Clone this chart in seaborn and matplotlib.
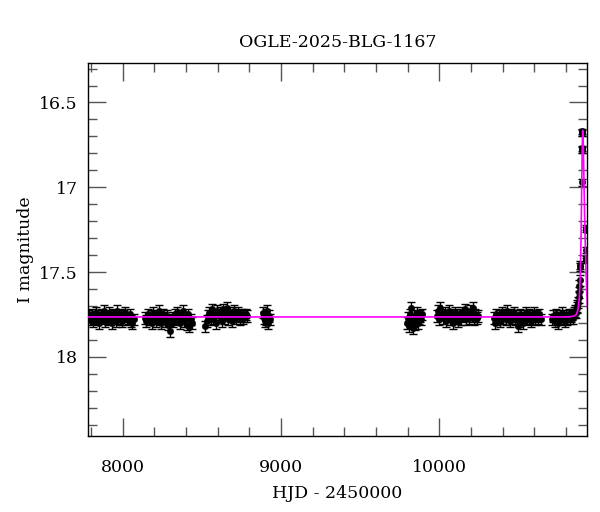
import matplotlib
matplotlib.use("Agg")
import matplotlib.pyplot as plt
import numpy as np
import pandas as pd
import seaborn as sns
from matplotlib.ticker import MultipleLocator

# OGLE photometry (HJD - 2450000, I mag, error)
hjd = [
    # 2017
    7786, 7795, 7803, 7811, 7820, 7828, 7837, 7845, 7853, 7862, 7870, 7879,
    7888, 7896, 7905, 7913, 7922, 7930, 7939, 7947, 7956, 7964, 7973, 7981,
    7990, 7998, 8007, 8016, 8025, 8034, 8043, 8052, 8061, 8068,
    # 2018
    8142, 8150, 8159, 8167, 8176, 8184, 8193, 8201, 8210, 8218, 8227, 8235,
    8244, 8252, 8261, 8269, 8278, 8286, 8295, 8301, 8310, 8318, 8327, 8335,
    8344, 8352, 8361, 8369, 8378, 8386, 8395, 8403, 8412, 8420, 8429, 8437,
    # 2019
    8522, 8530, 8539, 8547, 8556, 8564, 8573, 8581, 8590, 8598, 8607, 8615,
    8624, 8632, 8641, 8649, 8658, 8666, 8675, 8683, 8692, 8700, 8709, 8717,
    8726, 8734, 8743, 8751, 8760, 8768, 8777, 8786,
    # 2020
    8884, 8890, 8896, 8902, 8908, 8914, 8920, 8926, 8932,
    # 2022
    9797, 9803, 9809, 9815, 9821, 9827, 9833, 9839, 9845, 9851, 9857, 9863,
    9870, 9877, 9884, 9891,
    # 2023
    9982, 9990, 9999, 10007, 10016, 10024, 10033, 10041, 10050, 10058, 10067,
    10075, 10084, 10092, 10101, 10109, 10118, 10126, 10135, 10143, 10152,
    10160, 10169, 10177, 10186, 10194, 10203, 10211, 10220, 10228, 10237, 10245,
    # 2024
    10342, 10350, 10359, 10367, 10376, 10384, 10393, 10401, 10410, 10418,
    10427, 10435, 10444, 10452, 10461, 10469, 10478, 10486, 10495, 10503,
    10512, 10520, 10529, 10537, 10546, 10554, 10563, 10571, 10580, 10588,
    10597, 10605, 10614, 10622, 10631, 10639,
    # 2025 (event)
    10712, 10720, 10728, 10736, 10744, 10752, 10760, 10768, 10776, 10784,
    10792, 10800, 10808, 10816, 10824, 10832, 10840, 10846, 10852, 10858,
    10863, 10868, 10872, 10876, 10879, 10882, 10885, 10887, 10888, 10889,
    10901, 10901, 10901, 10902, 10902, 10923, 10923, 10924, 10924, 10924,
]
mag = [
    17.76, 17.78, 17.75, 17.79, 17.77, 17.74, 17.78, 17.76, 17.80, 17.75, 17.77, 17.73,
    17.79, 17.76, 17.78, 17.74, 17.77, 17.80, 17.75, 17.76, 17.79, 17.73, 17.77, 17.78,
    17.75, 17.79, 17.76, 17.74, 17.78, 17.77, 17.75, 17.79, 17.80, 17.78,
    17.77, 17.79, 17.75, 17.78, 17.76, 17.80, 17.74, 17.77, 17.79, 17.76, 17.73, 17.78,
    17.80, 17.75, 17.77, 17.79, 17.76, 17.81, 17.78, 17.85, 17.77, 17.79, 17.75, 17.78,
    17.74, 17.77, 17.80, 17.76, 17.73, 17.79, 17.77, 17.81, 17.75, 17.82, 17.78, 17.80,
    17.82, 17.79, 17.76, 17.74, 17.78, 17.72, 17.77, 17.75, 17.80, 17.73, 17.76, 17.74,
    17.79, 17.72, 17.77, 17.75, 17.71, 17.78, 17.74, 17.76, 17.79, 17.73, 17.75, 17.77,
    17.74, 17.76, 17.78, 17.75, 17.77, 17.76, 17.75, 17.76,
    17.74, 17.77, 17.79, 17.75, 17.78, 17.73, 17.80, 17.76, 17.78,
    17.80, 17.77, 17.82, 17.75, 17.71, 17.79, 17.83, 17.76, 17.81, 17.78, 17.74, 17.80,
    17.77, 17.76, 17.78, 17.75,
    17.76, 17.73, 17.78, 17.71, 17.75, 17.77, 17.74, 17.79, 17.76, 17.73, 17.78,
    17.75, 17.80, 17.76, 17.74, 17.77, 17.79, 17.75, 17.78, 17.74, 17.76,
    17.72, 17.78, 17.75, 17.77, 17.73, 17.76, 17.71, 17.78, 17.75, 17.77, 17.76,
    17.77, 17.80, 17.75, 17.78, 17.76, 17.79, 17.74, 17.77, 17.75, 17.78,
    17.73, 17.76, 17.79, 17.75, 17.77, 17.74, 17.78, 17.76, 17.82, 17.79,
    17.75, 17.77, 17.80, 17.76, 17.74, 17.78, 17.75, 17.77, 17.79, 17.76,
    17.74, 17.78, 17.76, 17.77, 17.75, 17.78,
    17.78, 17.76, 17.79, 17.75, 17.77, 17.80, 17.76, 17.78, 17.74, 17.77,
    17.79, 17.76, 17.78, 17.75, 17.77, 17.76, 17.75, 17.77, 17.74, 17.73,
    17.74, 17.71, 17.70, 17.68, 17.65, 17.62, 17.58, 17.55, 17.47, 17.46,
    16.97, 16.78, 16.77, 16.67, 16.68, 17.24, 17.25, 17.37, 17.42, 17.43,
]
mag_err = [0.034] * (len(mag) - 12) + [
    0.025, 0.025, 0.02, 0.02, 0.015, 0.015, 0.015, 0.015, 0.015, 0.015, 0.015, 0.015,
]

# Point-source point-lens model, sampled from the magenta curve
model_hjd = [7778, 10820, 10850, 10866, 10876, 10884, 10890, 10895, 10899,
             10902, 10905, 10908, 10912, 10916, 10920, 10925, 10930, 10935]
model_mag = [17.765, 17.765, 17.76, 17.75, 17.72, 17.65, 17.52, 17.30, 17.00,
             16.78, 16.665, 16.70, 16.90, 17.10, 17.28, 17.45, 17.60, 17.71]

phot = pd.DataFrame({"hjd": hjd, "mag": mag, "err": mag_err})
model = pd.DataFrame({"hjd": model_hjd, "mag": model_mag})

sns.set_style("ticks")
plt.rcParams["font.family"] = ["DejaVu Serif"]
plt.rcParams["text.color"] = "black"
plt.rcParams["axes.labelcolor"] = "black"
plt.rcParams["xtick.labelcolor"] = "black"
plt.rcParams["ytick.labelcolor"] = "black"

fig = plt.figure(figsize=(6, 5.12), dpi=100)
ax = fig.add_axes([0.146, 0.1475, 0.833, 0.7302])

ax.errorbar(phot["hjd"], phot["mag"], yerr=phot["err"], fmt="none",
            ecolor="black", elinewidth=1.0, capsize=3, capthick=1.0, zorder=2)
sns.scatterplot(data=phot, x="hjd", y="mag", ax=ax, color="black", s=22,
                edgecolor="black", linewidth=0.3, zorder=3)
sns.lineplot(data=model, x="hjd", y="mag", ax=ax, color="magenta",
             linewidth=1.2, sort=False, estimator=None, zorder=4)

ax.set_xlim(7778, 10935)
ax.set_ylim(18.47, 16.265)
ax.xaxis.set_major_locator(MultipleLocator(1000))
ax.xaxis.set_minor_locator(MultipleLocator(200))
ax.yaxis.set_minor_locator(MultipleLocator(0.1))
ax.set_yticks([16.5, 17, 17.5, 18])
ax.set_yticklabels(["16.5", "17", "17.5", "18"])

ax.tick_params(which="both", direction="in", top=True, right=True,
               color="#555555", width=1.0, labelsize=12.5)
ax.tick_params(which="major", length=13)
ax.tick_params(which="minor", length=6.5)
ax.tick_params(axis="x", which="major", pad=16)
ax.tick_params(axis="y", which="major", pad=7)
for sp in ax.spines.values():
    sp.set_linewidth(1.0)
    sp.set_color("black")

ax.set_xlabel("HJD - 2450000", fontsize=12.5, labelpad=7)
ax.set_ylabel("I magnitude", fontsize=12.5, labelpad=4)
ax.set_title("OGLE-2025-BLG-1167", fontsize=12.5, pad=11)

fig.savefig("out.png", dpi=100)
